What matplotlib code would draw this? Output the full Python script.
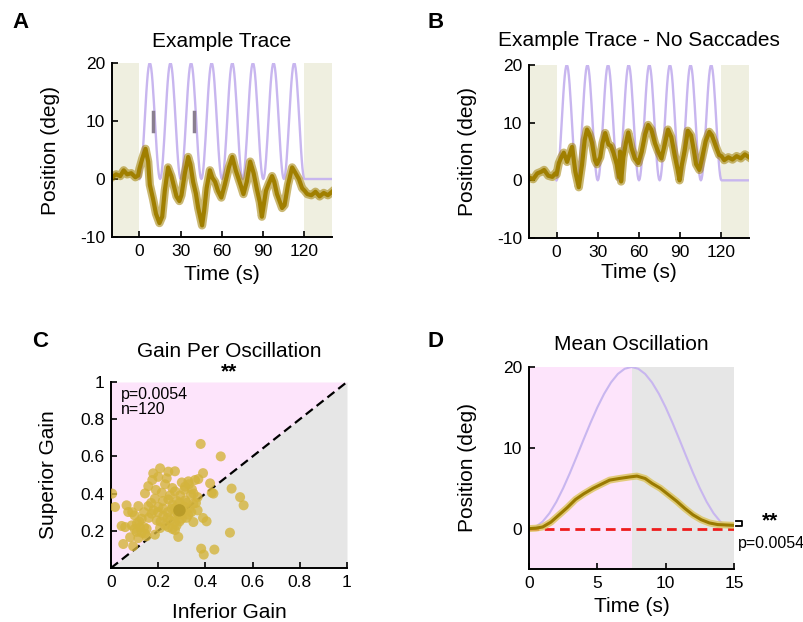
import numpy as np
import matplotlib
matplotlib.use("Agg")
import matplotlib.pyplot as plt

plt.rcParams['font.family'] = ['Liberation Sans', 'DejaVu Sans']
plt.rcParams['axes.unicode_minus'] = False

# ---- data ----
# one stimulus cycle (15 s, 0.5 s steps), deg
stim_cycle = [0, 0.22, 0.87, 1.91, 3.31, 5.0, 6.91, 8.96, 11.05, 13.09, 15.0, 16.69,
              18.09, 19.14, 19.78, 20.0, 19.78, 19.14, 18.09, 16.69, 15.0, 13.09,
              11.05, 8.96, 6.91, 5.0, 3.31, 1.91, 0.87, 0.22, 0]
stim_step = 0.5
n_cycles = 8

# panel A eye trace
tA = [-20, -17, -14, -11.5, -9, -6, -3, -1, 0, 2,
      4.4, 6.3, 7.5, 9.9, 12, 14.5, 16.5, 18.4, 20.8, 23.2,
      26.9, 29, 30.5, 33, 35.4, 37, 39, 41, 42.7, 45.5,
      47, 48.8, 51.2, 53, 55, 57, 59.5, 62, 65, 67.5,
      70, 73.5, 75.6, 78, 80.5, 83, 85.4, 87.5, 89, 90,
      92, 94, 96.4, 98, 100, 103.7, 105.5, 108, 111, 113,
      115.9, 118.3, 120, 122, 125, 128, 131, 134, 137, 140]
yA = [0.3, 0.8, 0.5, 1.5, 0.8, 1.0, 0.3, 0.6, 1.8, 3.5,
      5.2, 3.0, -1.0, -3.5, -6.0, -7.6, -6.5, -2.0, 2.0, 0.5,
      -3.0, -3.8, -2.8, 1.0, 3.8, 2.5, -0.5, -2.5, -5.0, -8.0,
      -5.5, -1.6, 1.5, 0.2, -0.5, -2.0, -3.2, -1.0, 2.0, 3.8,
      1.5, -1.0, -2.6, -0.5, 3.0, 1.0, -1.8, -4.0, -6.5, -5.0,
      -2.0, -0.8, 0.5, -0.5, -2.6, -5.0, -4.5, -1.0, 2.0, 1.2,
      0.0, -1.6, -2.0, -2.6, -2.8, -2.2, -3.0, -2.4, -2.8, -2.2]
saccade_t = [10, 39.3]
saccade_lo = 8.2
saccade_hi = 11.6

# panel B eye trace
tB = [-20, -17, -14, -11, -9, -6, -3, -1, 0, 1.7,
      3.5, 5.3, 7.7, 9.5, 11.3, 13.7, 16.2, 18.6, 20.5, 22.2,
      24, 25.8, 28, 29.4, 31.8, 33.5, 35.4, 37.8, 39.5, 41.4,
      43.8, 45.5, 46.2, 47, 48.6, 50.5, 52.2, 54.7, 57, 59.5,
      62, 64.5, 66.7, 69, 71.5, 73.9, 76.3, 78.5, 81.1, 83.5,
      85.9, 88, 89.5, 91, 93.1, 95.5, 97.9, 100, 101.5, 103.9,
      106, 108.5, 111.1, 113, 114.7, 116.5, 118.3, 120, 122, 125,
      128, 131, 134, 137, 140]
yB = [0.5, 0.2, 1.2, 1.5, 1.8, 0.8, 0.6, 1.2, 1.0, 3.0,
      4.0, 4.8, 3.2, 4.5, 5.8, 1.5, -1.2, 2.8, 7.0, 8.8,
      8.0, 6.5, 3.5, 2.8, 4.0, 6.5, 8.2, 6.2, 6.0, 4.8,
      2.8, 0.5, 5.0, -0.2, 4.0, 6.5, 8.3, 5.5, 3.8, 3.0,
      5.0, 8.0, 9.6, 8.8, 6.5, 5.0, 3.8, 6.0, 8.8, 7.5,
      4.4, 2.0, 0.0, 2.5, 5.0, 8.6, 7.8, 5.0, 2.8, 1.8,
      4.0, 6.8, 8.4, 7.8, 6.7, 5.5, 4.4, 4.2, 3.5, 4.0,
      3.6, 4.2, 3.8, 4.5, 4.0]

# panel C gains per oscillation
inf_gain = [0.38, 0.465, 0.208, 0.179, 0.243, 0.271, 0.39, 0.236, 0.175, 0.30,
            0.328, 0.356, 0.42, 0.229, 0.158, 0.314, 0.343, 0.511, 0.427, 0.005,
            0.144, 0.215, 0.271, 0.293, 0.339, 0.367, 0.547, 0.186, 0.243, 0.314,
            0.349, 0.562, 0.017, 0.066, 0.116, 0.158, 0.201, 0.257, 0.27, 0.293,
            0.367, 0.073, 0.10, 0.172, 0.222, 0.328, 0.39, 0.13, 0.194, 0.25,
            0.30, 0.349, 0.045, 0.088, 0.123, 0.151, 0.208, 0.243, 0.278, 0.109,
            0.144, 0.186, 0.271, 0.504, 0.081, 0.116, 0.285, 0.052, 0.094, 0.382,
            0.438, 0.393, 0.405, 0.434, 0.37, 0.28, 0.29, 0.30, 0.285, 0.31,
            0.295, 0.26, 0.32, 0.24, 0.33, 0.27, 0.22, 0.20, 0.35, 0.31,
            0.26, 0.19, 0.12, 0.14, 0.16, 0.10, 0.13, 0.06, 0.21, 0.23,
            0.18, 0.25, 0.28, 0.32, 0.34, 0.36, 0.29, 0.26, 0.17, 0.14,
            0.33, 0.20, 0.09, 0.11, 0.15, 0.29, 0.30, 0.24, 0.27, 0.22]
sup_gain = [0.667, 0.60, 0.536, 0.509, 0.518, 0.52, 0.51, 0.482, 0.473, 0.46,
            0.466, 0.473, 0.455, 0.45, 0.44, 0.437, 0.423, 0.427, 0.405, 0.40,
            0.401, 0.405, 0.412, 0.39, 0.394, 0.381, 0.381, 0.373, 0.369, 0.364,
            0.346, 0.337, 0.328, 0.337, 0.333, 0.333, 0.328, 0.319, 0.32, 0.305,
            0.31, 0.301, 0.283, 0.292, 0.28, 0.287, 0.269, 0.265, 0.256, 0.256,
            0.265, 0.247, 0.226, 0.229, 0.217, 0.211, 0.215, 0.22, 0.229, 0.194,
            0.185, 0.179, 0.204, 0.19, 0.165, 0.161, 0.167, 0.129, 0.117, 0.104,
            0.099, 0.072, 0.251, 0.40, 0.478, 0.30, 0.32, 0.31, 0.29, 0.33,
            0.30, 0.34, 0.35, 0.30, 0.32, 0.28, 0.36, 0.30, 0.40, 0.42,
            0.43, 0.42, 0.25, 0.22, 0.27, 0.21, 0.19, 0.22, 0.25, 0.23,
            0.31, 0.39, 0.36, 0.27, 0.30, 0.35, 0.25, 0.21, 0.35, 0.30,
            0.45, 0.49, 0.30, 0.24, 0.17, 0.35, 0.29, 0.27, 0.25, 0.32]
mean_gain = (0.29, 0.31)

# panel D mean oscillation
tD = [0, 0.5, 1.0, 1.6, 2.2, 2.8, 3.4, 4.0, 4.7, 5.3, 5.9, 6.6, 7.4,
      7.9, 8.5, 9.0, 9.6, 10.2, 10.8, 11.4, 12.0, 12.6, 13.2, 13.8, 14.4, 15]
yD = [0.0, 0.05, 0.2, 0.8, 1.7, 2.6, 3.6, 4.3, 5.0, 5.5, 6.0, 6.2, 6.4,
      6.5, 6.2, 5.6, 5.0, 4.2, 3.4, 2.5, 1.7, 1.1, 0.7, 0.5, 0.45, 0.4]

# colours
c_eye = '#a07f00'
c_stim = '#c8b6ef'
c_beige = '#efefe0'
c_pink = '#fde4fb'
c_grey = '#e6e6e6'
c_dot = '#d4b43c'

# stimulus for A/B
stim_t = np.arange(len(stim_cycle[:-1]) * n_cycles + 1) * stim_step
stim_y = np.concatenate([np.tile(stim_cycle[:-1], n_cycles), [0]])
stim_t = np.concatenate([stim_t, [140]])
stim_y = np.concatenate([stim_y, [0]])

fig = plt.figure(figsize=(8.04, 6.22), dpi=100)


def style(ax):
    for s in ['top', 'right']:
        ax.spines[s].set_visible(False)
    for s in ['left', 'bottom']:
        ax.spines[s].set_linewidth(1.4)
    ax.tick_params(direction='in', length=4, width=1.2, labelsize=12.5, pad=5)


def trace_panel(rect, t, y, title, pad, xl_y, saccades=None):
    ax = fig.add_axes(rect)
    ax.axvspan(-20, 0, color=c_beige, lw=0)
    ax.axvspan(120, 140, color=c_beige, lw=0)
    ax.plot(stim_t, stim_y, color=c_stim, lw=1.7)
    ax.plot(t, y, color=c_eye, lw=6, alpha=0.55, solid_joinstyle='round')
    ax.plot(t, y, color=c_eye, lw=3, solid_joinstyle='round')
    if saccades:
        for st in saccades:
            ax.plot([st, st], [saccade_lo, saccade_hi], color='#8a7f90', lw=2.5)
    ax.set_xlim(-20, 140)
    ax.set_ylim(-10, 20)
    ax.set_xticks([0, 30, 60, 90, 120])
    ax.set_yticks([-10, 0, 10, 20])
    ax.set_xlabel('Time (s)', fontsize=15)
    ax.set_ylabel('Position (deg)', fontsize=15)
    ax.xaxis.set_label_coords(0.5, xl_y)
    ax.yaxis.set_label_coords(-0.236, 0.5)
    ax.set_title(title, fontsize=15, pad=pad)
    style(ax)
    return ax


axA = trace_panel([112 / 804, 1 - 237 / 622, 220 / 804, 174 / 622], tA, yA,
                  'Example Trace', 11.5, -0.161, saccade_t)
axB = trace_panel([529 / 804, 1 - 238 / 622, 220 / 804, 173 / 622], tB, yB,
                  'Example Trace - No Saccades', 14, -0.145)

# panel C
axC = fig.add_axes([111 / 804, 1 - 568 / 622, 236 / 804, 186 / 622])
diag = np.array([0, 1])
axC.fill_between(diag, diag, 1, color=c_pink, lw=0)
axC.fill_between(diag, 0, diag, color=c_grey, lw=0)
axC.plot(diag, diag, color='black', lw=1.6, dashes=(4, 2.2))
axC.scatter(inf_gain, sup_gain, s=52, color=c_dot, alpha=0.8, edgecolors='none', zorder=3)
axC.scatter([mean_gain[0]], [mean_gain[1]], s=80, color='#a88c1c', alpha=0.6,
            edgecolors='none', zorder=4)
axC.set_xlim(0, 1)
axC.set_ylim(0, 1)
axC.set_xticks([0, 0.2, 0.4, 0.6, 0.8, 1])
axC.set_xticklabels(['0', '0.2', '0.4', '0.6', '0.8', '1'])
axC.set_yticks([0.2, 0.4, 0.6, 0.8, 1])
axC.set_yticklabels(['0.2', '0.4', '0.6', '0.8', '1'])
axC.text(0.04, 0.975, 'p=0.0054\nn=120', fontsize=11.5, va='top', ha='left',
         linespacing=1.05)
axC.text(0.5, 1.005, '**', transform=axC.transAxes, fontsize=15, fontweight='bold',
         ha='center', va='bottom')
axC.set_title('Gain Per Oscillation', fontsize=15, pad=18)
axC.set_xlabel('Inferior Gain', fontsize=15)
axC.set_ylabel('Superior Gain', fontsize=15)
axC.xaxis.set_label_coords(0.5, -0.188)
axC.yaxis.set_label_coords(-0.225, 0.5)
style(axC)

# panel D
axD = fig.add_axes([529 / 804, 1 - 569 / 622, 205 / 804, 202 / 622])
axD.axvspan(0, 7.5, color=c_pink, lw=0)
axD.axvspan(7.5, 15, color=c_grey, lw=0)
cyc_t = np.arange(len(stim_cycle)) * stim_step
axD.plot(cyc_t, stim_cycle, color=c_stim, lw=1.5)
axD.plot([0, 15], [0, 0], color='#ee1c1c', lw=2, dashes=(3.5, 2))
axD.plot(tD, yD, color='#dcc45a', lw=5, alpha=0.8, solid_capstyle='butt')
axD.plot(tD, yD, color='#9a7a00', lw=2.2)
axD.plot([15.15, 15.6, 15.6, 15.15], [0.3, 0.3, 1.0, 1.0], color='black', lw=1.3,
         clip_on=False)
axD.text(17.6, 0.9, '**', fontsize=15, fontweight='bold', ha='center', va='center')
axD.text(15.3, -1.9, 'p=0.0054', fontsize=11.5, ha='left', va='center')
axD.set_xlim(0, 15)
axD.set_ylim(-5, 20)
axD.set_xticks([0, 5, 10, 15])
axD.set_yticks([0, 10, 20])
axD.set_title('Mean Oscillation', fontsize=15, pad=12)
axD.set_xlabel('Time (s)', fontsize=15)
axD.set_ylabel('Position (deg)', fontsize=15)
axD.xaxis.set_label_coords(0.5, -0.139)
axD.yaxis.set_label_coords(-0.254, 0.5)
style(axD)

# panel letters
for lab, px, py in [('A', 12, 12), ('B', 428, 12), ('C', 32, 331), ('D', 428, 331)]:
    fig.text(px / 804, 1 - py / 622, lab, fontsize=16, fontweight='bold',
             ha='left', va='top')

fig.savefig('out.png', dpi=100)
